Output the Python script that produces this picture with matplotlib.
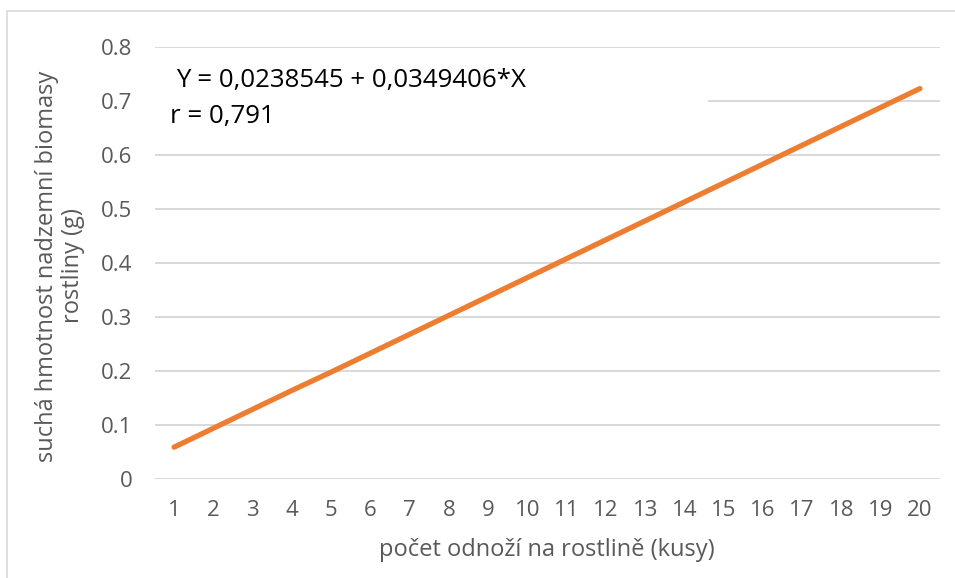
import matplotlib.pyplot as plt
from matplotlib.patches import Rectangle
from matplotlib.lines import Line2D

plt.rcParams['font.family'] = ['Open Sans', 'DejaVu Sans']

# počet odnoží (kategorie) a odečtené hodnoty regresní přímky
odnoze = list(range(1, 21))
biomasa = [0.059, 0.094, 0.129, 0.164, 0.198, 0.233, 0.268, 0.303, 0.338, 0.373,
           0.408, 0.443, 0.478, 0.513, 0.548, 0.583, 0.618, 0.653, 0.688, 0.723]
y_ticks = [0, 0.1, 0.2, 0.3, 0.4, 0.5, 0.6, 0.7, 0.8]
y_labels = ["0", "0.1", "0.2", "0.3", "0.4", "0.5", "0.6", "0.7", "0.8"]

W, H = 955, 578
f = plt.figure(figsize=(W / 100, H / 100), dpi=100)
ax = f.add_axes([154.5 / W, 1 - 479 / H, (939.5 - 154.5) / W, (479 - 47) / H])

grey = "#595959"
ax.set_xlim(0.5, 20.5)
ax.set_ylim(0, 0.8)
ax.set_yticks(y_ticks)
ax.set_yticklabels(y_labels)
ax.set_xticks(odnoze)
ax.set_xticklabels([str(v) for v in odnoze])
ax.tick_params(length=0, labelsize=16, labelcolor=grey)
ax.tick_params(axis='y', pad=16)
ax.tick_params(axis='x', pad=15)
for s in ax.spines.values():
    s.set_visible(False)
ax.grid(True, axis='y', color="#d9d9d9", lw=1.4)
ax.set_axisbelow(True)

ax.plot(odnoze, biomasa, c="#ED7D31", lw=3.8, solid_capstyle='round', zorder=3)

# bílé pozadí textového pole s rovnicí
f.patches.append(Rectangle((155 / W, 1 - 135 / H), (708 - 155) / W, 75 / H,
                           transform=f.transFigure, facecolor="white",
                           edgecolor="none", zorder=2))
f.text(176 / W, 1 - 80 / H, "Y = 0,0238545 + 0,0349406*X", fontsize=18.6,
       color="black", va='center', ha='left', zorder=4)
f.text(170 / W, 1 - 116 / H, "r = 0,791", fontsize=18.6,
       color="black", va='center', ha='left', zorder=4)

f.text(547 / W, 1 - 550 / H, "počet odnoží na rostlině (kusy)", fontsize=17,
       color=grey, ha='center', va='center')
f.text(60 / W, 1 - 266 / H, "suchá hmotnost nadzemní biomasy\nrostliny (g)",
       fontsize=17, color=grey, ha='center', va='center', rotation=90,
       multialignment='center', linespacing=1.1)

# okraj grafu
f.lines.append(Line2D([6.5 / W, 6.5 / W, 1], [0, 1 - 10.5 / H, 1 - 10.5 / H],
                      transform=f.transFigure, color="#d9d9d9", lw=1.2))

f.savefig("out.png", dpi=100)
